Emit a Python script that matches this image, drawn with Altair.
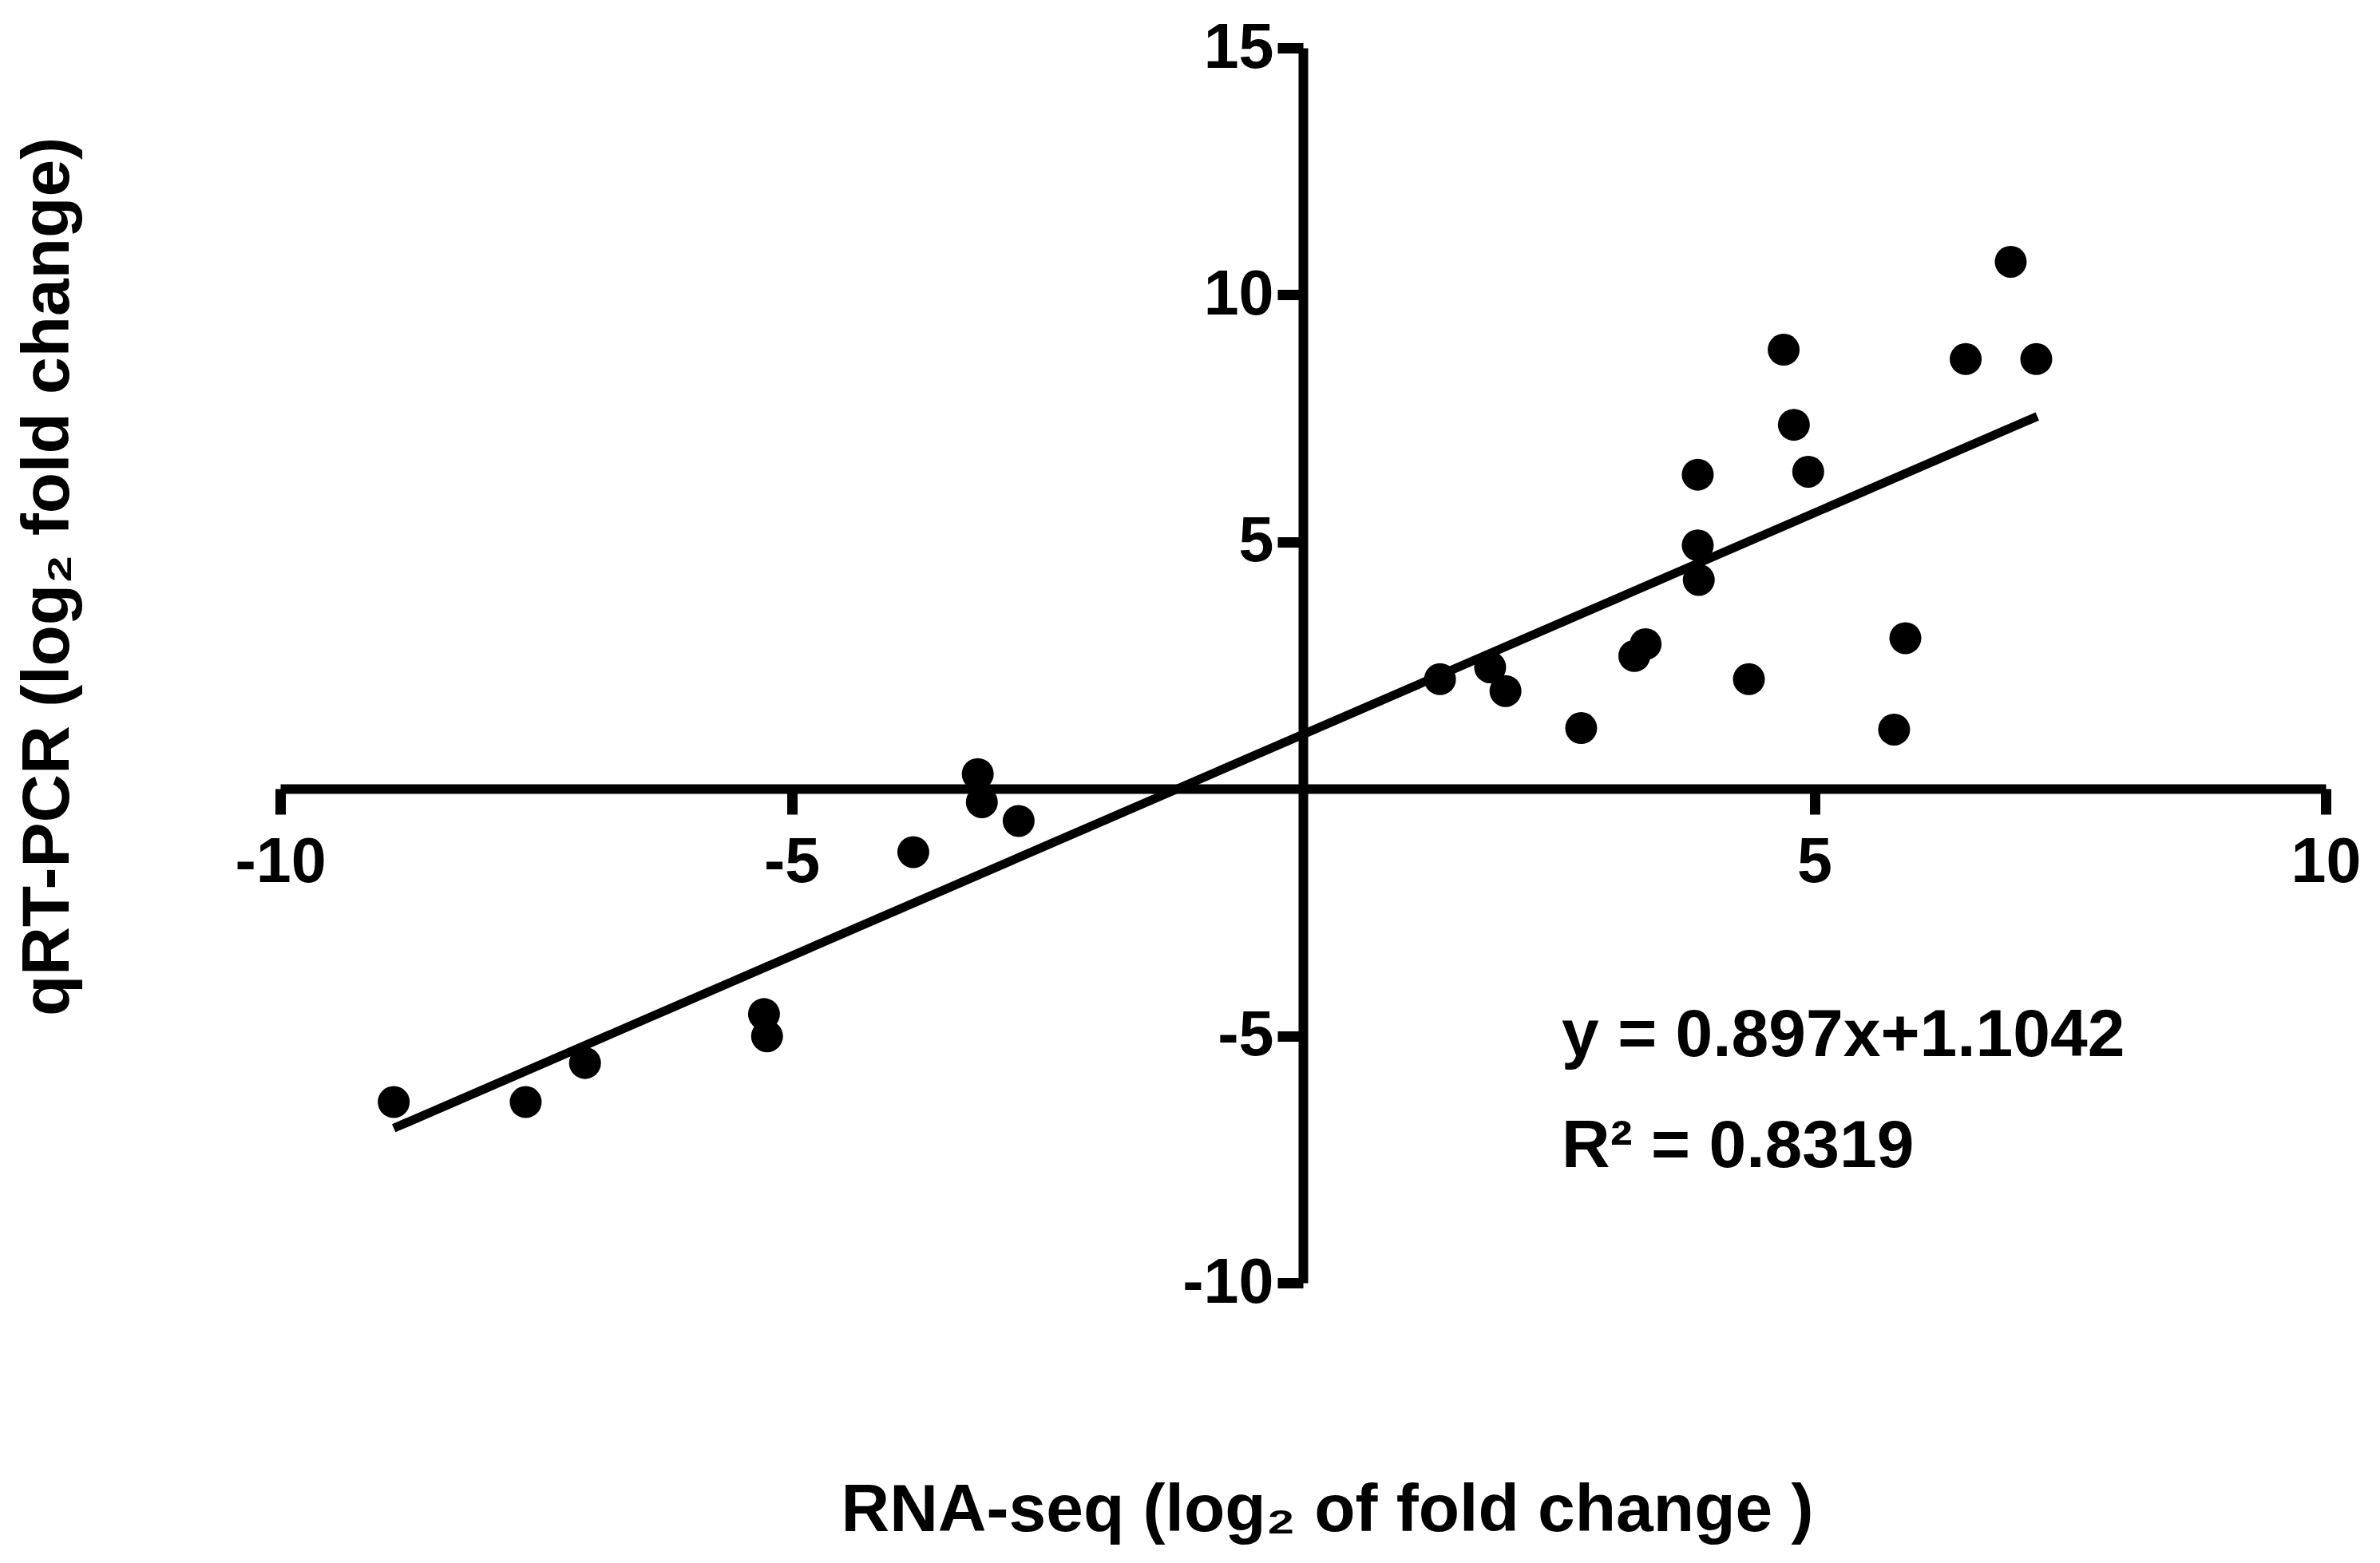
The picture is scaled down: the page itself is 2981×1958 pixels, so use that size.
import altair as alt
import pandas as pd

# Scatter data
rna_seq = [-8.89, -7.60, -7.02, -5.27, -5.24, -3.81, -3.18, -3.14, -2.78,
           1.34, 1.83, 1.98, 2.72, 3.24, 3.35, 3.86, 3.86, 3.87, 4.36,
           4.70, 4.80, 4.94, 5.78, 5.89, 6.48, 6.92, 7.17]
qrt_pcr = [-6.34, -6.34, -5.55, -4.56, -5.01, -1.28, 0.30, -0.27, -0.65,
           2.22, 2.46, 1.98, 1.23, 2.69, 2.93, 6.36, 4.93, 4.23, 2.22,
           8.89, 7.37, 6.42, 1.20, 3.05, 8.70, 10.67, 8.70]

# Fitted line end points (y = 0.897x + 1.1042)
fit_x = [-8.89, 7.18]
fit_y = [-6.87, 7.54]

x_ticks = [-10, -5, 5, 10]
y_ticks = [-10, -5, 5, 10, 15]

eq_lines = ["y = 0.897x+1.1042", "R² = 0.8319"]

pts = pd.DataFrame({"x": rna_seq, "y": qrt_pcr})
fit = pd.DataFrame({"x": fit_x, "y": fit_y})

FONT = "Liberation Sans, Arial, Helvetica, sans-serif"
W, H = 2562, 1547
LABEL_EXPR = "datum.value < 0 ? '-' + abs(datum.value) : '' + datum.value"

xscale = alt.Scale(domain=[-10, 10], nice=False, zero=False)
yscale = alt.Scale(domain=[-10, 15], nice=False, zero=False)

xaxis = alt.Axis(
    values=x_ticks, offset=-619, grid=False, labelExpr=LABEL_EXPR, labelLimit=0,
    domainColor="black", domainWidth=12, tickColor="black", tickWidth=13,
    tickSize=32, labelFont=FONT, labelFontSize=79, labelFontWeight="bold",
    labelColor="black", labelPadding=22, labelFlush=False, labelOverlap=False,
    title="RNA-seq (log₂ of fold change )", titleFont=FONT, titleFontSize=84,
    titleFontWeight="bold", titleColor="black", titleX=1311, titleY=929,
    titleAlign="center", titleBaseline="alphabetic",
)
yaxis = alt.Axis(
    values=y_ticks, offset=-1281, grid=False, labelExpr=LABEL_EXPR, labelLimit=0,
    domainColor="black", domainWidth=12, tickColor="black", tickWidth=13,
    tickSize=32, labelFont=FONT, labelFontSize=79, labelFontWeight="bold",
    labelColor="black", labelPadding=5, labelFlush=False, labelOverlap=False,
    title="qRT-PCR (log₂ fold change)", titleFont=FONT, titleFontSize=84,
    titleFontWeight="bold", titleColor="black", titleX=-1547, titleY=662,
    titleAlign="center", titleBaseline="alphabetic", titleAngle=270,
)

points = alt.Chart(pts).mark_point(
    shape="circle", filled=True, color="black", size=1600, opacity=1
).encode(
    x=alt.X("x:Q", scale=xscale, axis=xaxis),
    y=alt.Y("y:Q", scale=yscale, axis=yaxis),
)

line = alt.Chart(fit).mark_line(color="black", strokeWidth=11).encode(
    x=alt.X("x:Q", scale=xscale),
    y=alt.Y("y:Q", scale=yscale),
)

eq1 = alt.Chart(pd.DataFrame({"t": [eq_lines[0]]})).mark_text(
    align="left", baseline="alphabetic", font=FONT, fontSize=84,
    fontWeight="bold", color="black"
).encode(x=alt.datum(2.53), y=alt.datum(-5.41), text="t:N")

eq2 = alt.Chart(pd.DataFrame({"t": [eq_lines[1]]})).mark_text(
    align="left", baseline="alphabetic", font=FONT, fontSize=84,
    fontWeight="bold", color="black"
).encode(x=alt.datum(2.53), y=alt.datum(-7.66), text="t:N")

chart = alt.layer(line, points, eq1, eq2).properties(
    width=W, height=H,
    autosize=alt.AutoSizeParams(type="none"),
    padding={"left": 343, "top": 52, "right": 50, "bottom": 330},
    background="white",
).configure_view(stroke=None)

chart.save("out.html", embed_options={"renderer": "svg", "actions": False})
